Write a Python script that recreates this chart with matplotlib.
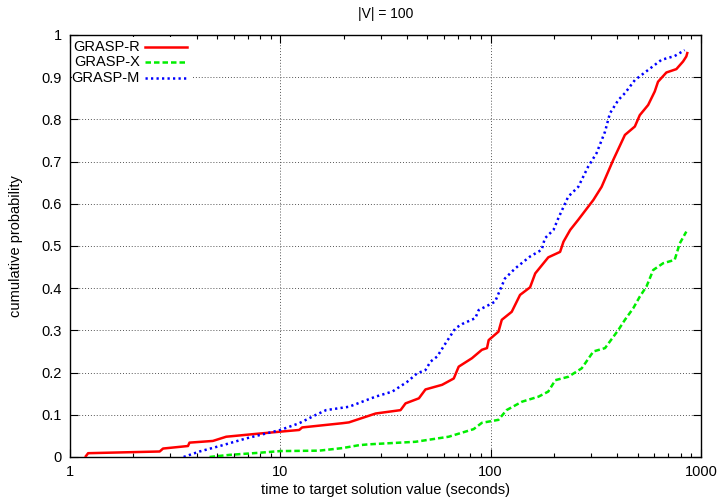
import numpy as np
import matplotlib
matplotlib.use("Agg")
import matplotlib.pyplot as plt
from matplotlib.ticker import FixedLocator, NullFormatter, LogLocator
from matplotlib.lines import Line2D
from matplotlib.patches import Rectangle

plt.rcParams["font.family"] = ["Liberation Sans", "DejaVu Sans"]
plt.rcParams["font.size"] = 10.5

# ── data (time in seconds, cumulative probability) ──

grasp_r_t = [1.19, 1.22, 2.67, 2.77, 3.64, 3.70, 4.78, 5.53, 7.39, 10.0, 12.3, 12.7,
             19.7, 21.2, 28.4, 37.3, 39.4, 45.6, 49.0, 58.8, 66.8, 70.5, 81.5, 90.9,
             96.1, 97.9, 109, 113, 126, 138, 154, 163, 188, 214, 222, 239, 261, 286,
             308, 337, 383, 435, 485, 512, 561, 603, 625, 685, 764, 822, 852, 861]
grasp_r_p = [0.002, 0.009, 0.013, 0.020, 0.026, 0.034, 0.038, 0.048, 0.054, 0.060, 0.064, 0.070,
             0.080, 0.082, 0.103, 0.111, 0.127, 0.139, 0.160, 0.171, 0.186, 0.214, 0.234, 0.254,
             0.258, 0.277, 0.297, 0.325, 0.344, 0.384, 0.402, 0.435, 0.473, 0.486, 0.510, 0.538,
             0.562, 0.588, 0.609, 0.640, 0.704, 0.763, 0.783, 0.810, 0.834, 0.866, 0.889, 0.911,
             0.919, 0.937, 0.949, 0.957]

grasp_x_t = [4.61, 5.73, 7.95, 10.0, 15.3, 19.7, 23.7, 26.4, 43.9, 63.2, 83.0, 90.9, 109,
             119, 141, 169, 188, 203, 234, 271, 308, 350, 405, 435, 476, 512, 551, 593,
             661, 750, 793, 852]
grasp_x_p = [0.000, 0.005, 0.010, 0.014, 0.015, 0.021, 0.028, 0.030, 0.036, 0.048, 0.066, 0.081,
             0.088, 0.111, 0.131, 0.143, 0.155, 0.182, 0.190, 0.210, 0.250, 0.258, 0.301,
             0.325, 0.352, 0.380, 0.404, 0.443, 0.459, 0.467, 0.506, 0.534]

grasp_m_t = [3.47, 4.13, 5.33, 6.88, 10.0, 12.3, 14.8, 16.5, 21.2, 28.4, 34.1, 40.1, 44.7,
             49.0, 51.8, 55.7, 61.0, 68.0, 73.2, 84.6, 87.7, 97.9, 105, 117, 131, 154, 175,
             181, 199, 210, 234, 261, 291, 319, 350, 369, 405, 435, 485, 561, 649, 750, 837]
grasp_m_p = [0.000, 0.013, 0.028, 0.044, 0.064, 0.080, 0.100, 0.111, 0.119, 0.143, 0.155, 0.178,
             0.198, 0.206, 0.226, 0.238, 0.269, 0.305, 0.315, 0.329, 0.348, 0.360, 0.368, 0.423,
             0.447, 0.475, 0.491, 0.518, 0.538, 0.566, 0.617, 0.640, 0.688, 0.720, 0.771, 0.814,
             0.846, 0.862, 0.893, 0.917, 0.941, 0.950, 0.964]

labels = ["GRASP-R", "GRASP-X", "GRASP-M"]
x_ticks = [1, 10, 100, 1000]
y_ticks = [0, 0.1, 0.2, 0.3, 0.4, 0.5, 0.6, 0.7, 0.8, 0.9, 1]

# ── figure ───────────────────────────────────────────────────────────────────

fig = plt.figure(figsize=(7.17, 4.99), dpi=100)
ax = fig.add_axes([0.0976, 0.0842, 0.880, 0.8458])

styles = [
    dict(color="#ff0000", lw=1.8, ls="-"),
    dict(color="#00ee00", lw=1.8, ls=(0, (2.2, 1.2))),
    dict(color="#0000ff", lw=1.8, ls=(0, (0.9, 1.3))),
]
series = [(grasp_r_t, grasp_r_p), (grasp_x_t, grasp_x_p), (grasp_m_t, grasp_m_p)]
for (t, p), st in zip(series, styles):
    ax.plot(t, p, zorder=3, **st)

ax.set_xscale("log")
ax.set_xlim(1, 1000)
ax.set_ylim(0, 1)
ax.xaxis.set_major_locator(FixedLocator(x_ticks))
ax.set_xticklabels([str(v) for v in x_ticks])
ax.xaxis.set_minor_locator(LogLocator(base=10, subs=np.arange(2, 10)))
ax.xaxis.set_minor_formatter(NullFormatter())
ax.yaxis.set_major_locator(FixedLocator(y_ticks))
ax.set_yticklabels(["0"] + [f"{v:g}" for v in y_ticks[1:]])

ax.tick_params(which="both", direction="in", top=True, right=True, width=0.8)
ax.tick_params(which="major", length=6, pad=6)
ax.tick_params(which="minor", length=3)
for s in ax.spines.values():
    s.set_linewidth(1.0)

ax.grid(True, which="major", ls=(0, (1, 2)), color="#555555", lw=0.7)

ax.set_title("|V| = 100", fontsize=10, pad=12)
ax.set_xlabel("time to target solution value (seconds)", labelpad=3)
ax.set_ylabel("cumulative probability", labelpad=13)

# gnuplot-style key: text right-aligned, sample line after it
ax.add_patch(Rectangle((0.003, 0.855), 0.19, 0.14, transform=ax.transAxes,
                       facecolor="white", edgecolor="none", zorder=2))
for i, (lab, st) in enumerate(zip(labels, styles)):
    yk = 0.971 - i * 0.036
    ax.text(0.111, yk, lab, transform=ax.transAxes, ha="right", va="center", zorder=4)
    ax.add_line(Line2D([0.119, 0.186], [yk, yk], transform=ax.transAxes, zorder=4, **st))

fig.savefig("out.png", dpi=100)
